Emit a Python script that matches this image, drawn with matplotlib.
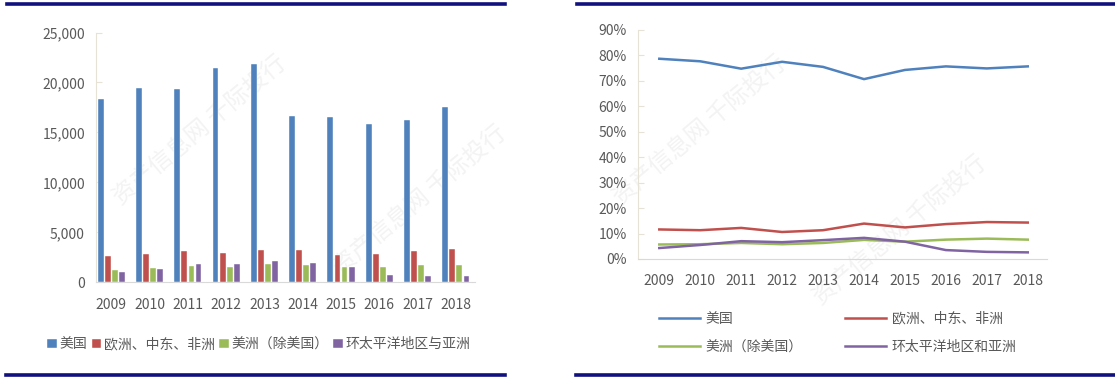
import numpy as np
import matplotlib
matplotlib.use('Agg')
from matplotlib import pyplot as plt
from matplotlib.lines import Line2D

plt.rcParams['font.family'] = ['Noto Sans CJK SC', 'DejaVu Sans']

years = ['2009', '2010', '2011', '2012', '2013', '2014', '2015', '2016', '2017', '2018']

# left chart: amounts
usa = [18300, 19430, 19360, 21430, 21800, 16600, 16500, 15860, 16200, 17530]
emea = [2660, 2830, 3130, 2900, 3230, 3230, 2730, 2830, 3100, 3300]
americas_ex_us = [1260, 1460, 1600, 1530, 1830, 1730, 1530, 1530, 1730, 1730]
apac = [1000, 1360, 1800, 1800, 2100, 1930, 1500, 700, 600, 600]
bar_labels = ['美国', '欧洲、中东、非洲', '美洲（除美国）', '环太平洋地区与亚洲']

# right chart: shares (%)
usa_pct = [78.6, 77.6, 74.7, 77.4, 75.4, 70.6, 74.2, 75.6, 74.8, 75.6]
emea_pct = [11.6, 11.3, 12.2, 10.6, 11.3, 13.9, 12.4, 13.7, 14.5, 14.3]
americas_pct = [5.7, 5.8, 6.3, 5.8, 6.3, 7.5, 6.8, 7.6, 8.0, 7.6]
apac_pct = [4.3, 5.5, 7.0, 6.6, 7.4, 8.3, 6.8, 3.5, 2.8, 2.6]
line_labels = ['美国', '欧洲、中东、非洲', '美洲（除美国）', '环太平洋地区和亚洲']

colors = ['#4F81BD', '#C0504D', '#9BBB59', '#8064A2']
txt = '#595959'
axcol = '#E6E2D6'
navy = '#10107E'

W, H = 1115, 379
fig = plt.figure(figsize=(W / 100, H / 100), dpi=100)


def fx(px):
    return px / W


def fy(py):
    return 1 - py / H


# faint watermark text, behind everything
for (x, y) in [(200, 130), (420, 200), (700, 130), (900, 230)]:
    fig.text(fx(x), fy(y), '资产信息网 千际投行', rotation=40, fontsize=17,
             color='#F3F3F3', ha='center', va='center', zorder=-5)

# navy frame lines
for (x0, x1) in [(7, 505), (577, 1115)]:
    fig.add_artist(Line2D([fx(x0), fx(x1)], [fy(4), fy(4)], color=navy, lw=2.6))
    fig.add_artist(Line2D([fx(x0 - 1), fx(x1)], [fy(375), fy(375)], color=navy, lw=2.6))

# ---- left: bars
ax = fig.add_axes([fx(96), fy(282.3), fx(475 - 96), (282.3 - 32.5) / H])
ax.patch.set_alpha(0)
x = np.arange(len(years))
slot = 0.185
series = [usa, emea, americas_ex_us, apac]
for i, s in enumerate(series):
    ax.bar(x + (i - 1.5) * slot, s, width=slot * 0.82, color=colors[i],
           edgecolor='white', linewidth=0.3, label=bar_labels[i], zorder=3)
ax.set_ylim(0, 25000)
ax.set_xlim(-0.4, 9.5)
ax.set_yticks(range(0, 25001, 5000))
ax.set_yticklabels(['{:,}'.format(v) for v in range(0, 25001, 5000)])
ax.set_xticks(x)
ax.set_xticklabels(years)
for sp in ['top', 'right']:
    ax.spines[sp].set_visible(False)
ax.spines['left'].set_color(axcol)
ax.spines['bottom'].set_color('#D9D9D9')
ax.tick_params(axis='y', direction='in', length=4, color=axcol, labelsize=10, labelcolor=txt, pad=8)
ax.tick_params(axis='x', length=0, labelsize=10, labelcolor=txt, pad=11)
ax.legend(loc='upper center', bbox_to_anchor=(0.43, -0.17), ncol=4, frameon=False,
          handlelength=0.7, handleheight=0.7, handletextpad=0.2, columnspacing=0.3,
          fontsize=10, labelcolor=txt)

# ---- right: lines
ax2 = fig.add_axes([fx(638), fy(259), fx(1047 - 638), (259 - 29.7) / H])
ax2.patch.set_alpha(0)
line_series = [usa_pct, emea_pct, americas_pct, apac_pct]
for i, s in enumerate(line_series):
    ax2.plot(x, s, color=colors[i], lw=1.8, label=line_labels[i], zorder=3)
ax2.set_ylim(0, 90)
ax2.set_xlim(-0.52, 9.47)
ax2.set_yticks(range(0, 91, 10))
ax2.set_yticklabels(['{}%'.format(v) for v in range(0, 91, 10)])
ax2.set_xticks(x)
ax2.set_xticklabels(years)
for sp in ['top', 'right']:
    ax2.spines[sp].set_visible(False)
ax2.spines['left'].set_color(axcol)
ax2.spines['bottom'].set_color('#D9D9D9')
ax2.tick_params(axis='y', direction='in', length=4, color=axcol, labelsize=10, labelcolor=txt, pad=8)
ax2.tick_params(axis='x', length=0, labelsize=10, labelcolor=txt, pad=11)
h, l = ax2.get_legend_handles_labels()
order = [0, 2, 1, 3]
ax2.legend([h[i] for i in order], [l[i] for i in order],
           loc='upper left', bbox_to_anchor=(0.02, -0.175), ncol=2, frameon=False,
           handlelength=3.0, handletextpad=0.4, columnspacing=3.0, labelspacing=1.05,
           fontsize=10, labelcolor=txt)

fig.savefig('out.png', dpi=100)
